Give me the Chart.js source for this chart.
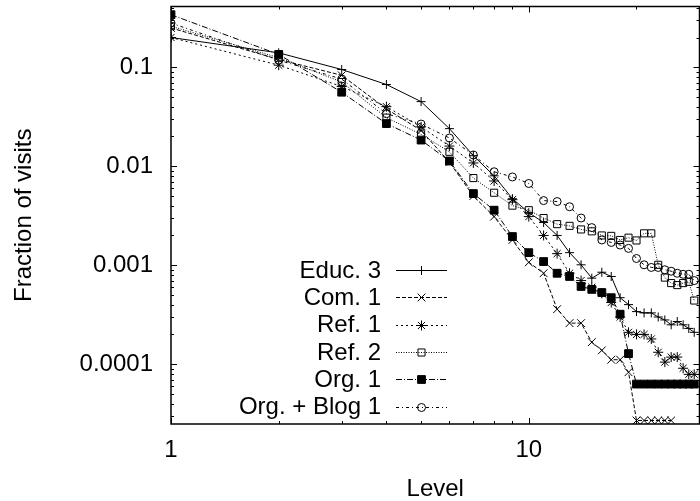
<!DOCTYPE html>
<html>
<head>
<meta charset="utf-8">
<script src="https://cdn.jsdelivr.net/npm/chart.js@4.4.1/dist/chart.umd.min.js"></script>
<style>
  html, body { margin: 0; padding: 0; background: #fff; overflow: hidden; }
  canvas { display: block; }
</style>
</head>
<body>
<canvas id="myChart" width="706" height="501"></canvas>
<script>
// levels on the x axis
const levels = [1, 2, 3, 4, 5, 6, 7, 8, 9, 10, 11, 12, 13, 14, 15, 16, 17, 18, 19, 20,
	21, 22, 23, 24, 25, 26, 27, 28, 29];

// fraction of visits per level
const educ3 = [0.2, 0.14, 0.095, 0.067, 0.045, 0.024, 0.0128, 0.008, 0.0047, 0.0034,
	0.0027, 0.002, 0.00134, 0.00101, 0.00074, 0.00085, 0.00077, 0.00047, 0.0004, 0.00034,
	0.00033, 0.00033, 0.0003, 0.00028, 0.00025, 0.00027, 0.00025, 0.00023, 0.00021];
const com1 = [0.25, 0.12, 0.083, 0.038, 0.023, 0.011, 0.005, 0.0031, 0.0018, 0.00107,
	0.00083, 0.00036, 0.00026, 0.00026, 0.000167, 0.000138, 0.000111, 0.000111, 0.000083, 0.000027,
	0.000027, 0.000027, 0.000027, 0.000027, 0.000027];
const ref1 = [0.2, 0.105, 0.064, 0.04, 0.025, 0.016, 0.0108, 0.0071, 0.0046, 0.0031,
	0.002, 0.00131, 0.00083, 0.0007, 0.0006, 0.00052, 0.00042, 0.0003, 0.00021, 0.0002,
	0.0002, 0.00018, 0.000132, 0.000105, 0.000118, 0.000118, 0.000091, 0.000079, 0.000079];
const ref2 = [0.26, 0.125, 0.071, 0.031, 0.021, 0.014, 0.0076, 0.0054, 0.004, 0.0036,
	0.003, 0.0026, 0.0025, 0.0023, 0.0022, 0.002, 0.00198, 0.0018, 0.0019, 0.00178,
	0.0021, 0.0021, 0.00101, 0.00075, 0.00066, 0.00063, 0.00066, 0.00068, 0.00044];
const org1 = [0.34, 0.135, 0.056, 0.027, 0.0184, 0.0113, 0.0053, 0.0036, 0.00195, 0.00134,
	0.00109, 0.00083, 0.00077, 0.00061, 0.00057, 0.00053, 0.00047, 0.00032, 0.000128, 0.000063,
	0.000063, 0.000063, 0.000063, 0.000063, 0.000063, 0.000063, 0.000063, 0.000063, 0.000063];
const orgBlog1 = [0.28, 0.118, 0.076, 0.034, 0.0267, 0.0193, 0.013, 0.0088, 0.0078, 0.0067,
	0.0045, 0.0044, 0.0039, 0.003, 0.0024, 0.0018, 0.0017, 0.0016, 0.00148, 0.00117,
	0.00101, 0.00095, 0.00095, 0.0009, 0.00087, 0.00083, 0.00081, 0.00081, 0.0007];

const seriesNames = ['Educ. 3', 'Com. 1', 'Ref. 1', 'Ref. 2', 'Org. 1', 'Org. + Blog 1'];

const xTickValues = [1, 10];
const xTickLabels = ['1', '10'];
const yTickValues = [0.0001, 0.001, 0.01, 0.1];
const yTickLabels = ['0.0001', '0.001', '0.01', '0.1'];

const FONT = { family: '"Liberation Sans", Arial, sans-serif', size: 24 };

function toPoints(values) {
	return values.map((v, i) => ({ x: levels[i], y: v }));
}

// gnuplot-like line / point styles
const styles = [
	{ dash: [], point: 'cross', radius: 4.5, fill: 'rgba(0,0,0,0)' },
	{ dash: [4, 2], point: 'crossRot', radius: 5.5, fill: 'rgba(0,0,0,0)' },
	{ dash: [2, 3], point: 'star', radius: 5, fill: 'rgba(0,0,0,0)' },
	{ dash: [1, 1.5], point: 'rect', radius: 5, fill: 'rgba(0,0,0,0)' },
	{ dash: [6, 2, 1, 2], point: 'rect', radius: 5.5, fill: '#000' },
	{ dash: [3, 3, 1, 3], point: 'circle', radius: 4, fill: 'rgba(0,0,0,0)' },
];
const seriesData = [educ3, com1, ref1, ref2, org1, orgBlog1];

const datasets = seriesData.map((vals, i) => ({
	label: seriesNames[i],
	data: toPoints(vals),
	borderColor: '#000',
	backgroundColor: styles[i].fill,
	borderWidth: 1,
	borderDash: styles[i].dash,
	pointStyle: styles[i].point,
	pointRadius: styles[i].radius,
	pointBorderWidth: 1,
	pointBorderColor: '#000',
	pointBackgroundColor: styles[i].fill,
	tension: 0,
	fill: false,
}));

// frame with inward ticks (gnuplot style)
const framePlugin = {
	id: 'frame',
	beforeDatasetsDraw(chart) {
		const { ctx, chartArea: a, scales: { x, y } } = chart;
		ctx.save();
		ctx.strokeStyle = '#000';
		ctx.lineWidth = 1.5;
		ctx.strokeRect(a.left, a.top, a.right - a.left, a.bottom - a.top);
		ctx.lineWidth = 1;
		ctx.beginPath();
		for (let d = 1; d <= 10; d *= 10) {
			for (let m = 1; m <= 9; m++) {
				const v = m * d;
				if (v > x.max) break;
				const px = Math.round(x.getPixelForValue(v)) + 0.5;
				const len = m === 1 ? 6 : 3;
				ctx.moveTo(px, a.bottom);
				ctx.lineTo(px, a.bottom - len);
				ctx.moveTo(px, a.top);
				ctx.lineTo(px, a.top + len);
			}
		}
		for (let d = 0.00001; d <= 0.1; d *= 10) {
			for (let m = 1; m <= 9; m++) {
				const v = m * d;
				if (v < y.min || v > y.max) continue;
				const py = Math.round(y.getPixelForValue(v)) + 0.5;
				const len = m === 1 ? 6 : 3;
				ctx.moveTo(a.left, py);
				ctx.lineTo(a.left + len, py);
				ctx.moveTo(a.right, py);
				ctx.lineTo(a.right - len, py);
			}
		}
		ctx.stroke();
		ctx.restore();
	},
};

// legend: text right aligned, sample line + marker to the right
const keyPlugin = {
	id: 'key',
	afterDatasetsDraw(chart) {
		const ctx = chart.ctx;
		const textRight = 381;
		const lineLeft = 396;
		const lineRight = 447;
		const top = 270;
		const step = 27.3;
		ctx.save();
		ctx.font = `${FONT.size}px ${FONT.family}`;
		ctx.textAlign = 'right';
		ctx.textBaseline = 'middle';
		chart.data.datasets.forEach((ds, i) => {
			const yy = top + i * step;
			ctx.fillStyle = '#000';
			ctx.fillText(ds.label, textRight, yy + 1);
			ctx.strokeStyle = '#000';
			ctx.lineWidth = 1;
			ctx.setLineDash(ds.borderDash);
			ctx.beginPath();
			ctx.moveTo(lineLeft, Math.round(yy) + 0.5);
			ctx.lineTo(lineRight, Math.round(yy) + 0.5);
			ctx.stroke();
			ctx.setLineDash([]);
			ctx.fillStyle = ds.pointBackgroundColor;
			Chart.helpers.drawPoint(ctx, {
				pointStyle: ds.pointStyle,
				radius: ds.pointRadius,
				rotation: 0,
				borderWidth: 1,
			}, (lineLeft + lineRight) / 2, Math.round(yy) + 0.5);
		});
		ctx.restore();
	},
};

const ctx = document.getElementById('myChart').getContext('2d');
new Chart(ctx, {
	type: 'line',
	data: { datasets: datasets },
	options: {
		responsive: false,
		animation: false,
		layout: { padding: { top: 5, right: 1, left: 0, bottom: 0 } },
		plugins: {
			legend: { display: false },
			tooltip: { enabled: false },
		},
		scales: {
			x: {
				type: 'logarithmic',
				position: 'bottom',
				min: 1,
				max: 30,
				grid: { display: false, drawTicks: false },
				border: { display: false },
				afterBuildTicks: (scale) => {
					scale.ticks = xTickValues.map((v) => ({ value: v }));
				},
				afterFit: (scale) => {
					scale.height = 77;
					scale.paddingLeft = 0;
					scale.paddingRight = 0;
				},
				ticks: {
					color: '#000',
					font: FONT,
					padding: 12,
					maxRotation: 0,
					autoSkip: false,
					callback: (v, i) => xTickLabels[i],
				},
				title: {
					display: true,
					text: 'Level',
					color: '#000',
					font: FONT,
					padding: { top: 0, bottom: -3 },
				},
			},
			y: {
				type: 'logarithmic',
				min: 2.488e-5,
				max: 0.4114,
				grid: { display: false, drawTicks: false },
				border: { display: false },
				afterBuildTicks: (scale) => {
					scale.ticks = yTickValues.map((v) => ({ value: v }));
				},
				afterFit: (scale) => {
					scale.width = 171;
					scale.paddingTop = 0;
					scale.paddingBottom = 0;
				},
				ticks: {
					color: '#000',
					font: FONT,
					padding: 18,
					autoSkip: false,
					callback: (v, i) => yTickLabels[i],
				},
				title: {
					display: true,
					text: 'Fraction of visits',
					color: '#000',
					font: FONT,
					padding: { top: 10, bottom: 0 },
				},
			},
		},
	},
	plugins: [framePlugin, keyPlugin],
});
</script>
</body>
</html>
